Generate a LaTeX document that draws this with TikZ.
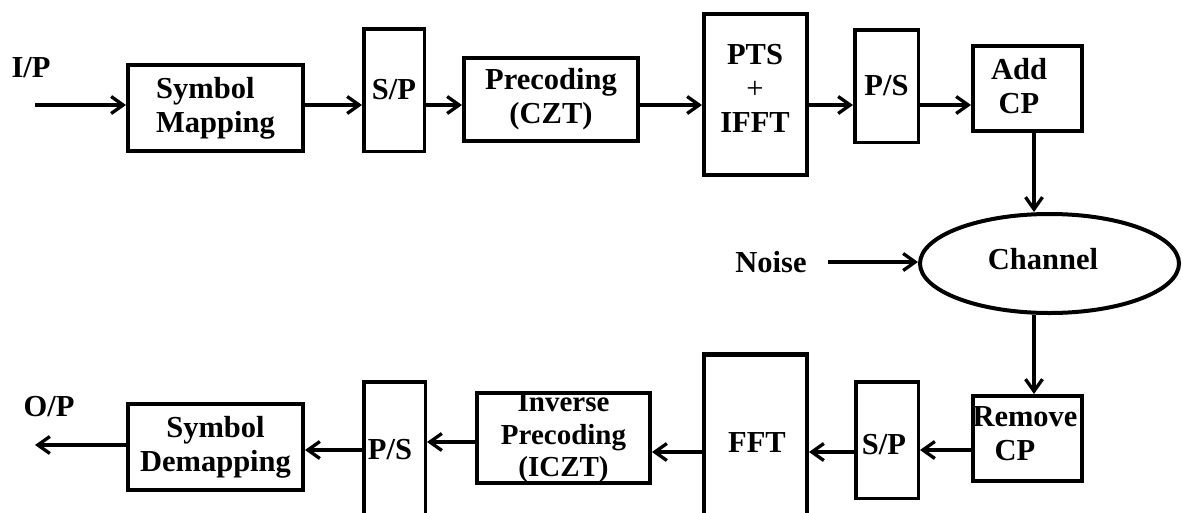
\documentclass[tikz,border=0pt]{standalone}
\usepackage{fontspec}
\setmainfont{Liberation Serif}
\usetikzlibrary{arrows.meta,shapes.geometric}
\begin{document}
\begin{tikzpicture}[x=1pt,y=-1pt,
  txtfont/.style={font=\bfseries\fontsize{30.5}{34}\selectfont},
  blk/.style={draw, line width=4.3pt, inner sep=0pt, txtfont, align=center},
  narrow/.style={blk, line width=3.5pt},
  lbl/.style={inner sep=0pt, txtfont, align=center},
  arr/.style={line width=3.3pt, -{Straight Barb[length=12pt,width=17pt]}}]
\useasboundingbox[fill=white] (0,0) rectangle (1183,512);
% top row
\node[lbl] (ip) at (31,68) {I/P};
\coordinate (in) at (35,105);
\coordinate (r1) at (0,105);
\node[blk, minimum width=174.7pt, minimum height=85.7pt, align=left] (symmap) at (215.5,108) {Symbol\\Mapping};
\node[narrow, minimum width=60.5pt, minimum height=122.5pt] (sp1) at (394,90) {S/P};
\node[blk, minimum width=173.7pt, minimum height=82.7pt] (prec) at (551,99.5) {Precoding\\(CZT)};
\node[blk, minimum width=102.7pt, minimum height=160.7pt] (pts) at (755.5,94.5) {};
\node[lbl] (ptst) at (755,88) {PTS\\{\mdseries +}\\IFFT};
\node[narrow, minimum width=63.5pt, minimum height=112.5pt] (ps1) at (886.5,86) {P/S};
\node[blk, minimum width=108.7pt, minimum height=84.7pt] (addcp) at (1027.5,88.5) {};
\node[lbl] (addcpt) at (1019,86) {Add\\CP};
% channel
\coordinate (c1) at (1034,0);
\node[draw, ellipse, line width=4pt, inner sep=0pt, minimum width=259pt, minimum height=99pt, txtfont] (chan) at (1049.5,263.5) {};
\node[lbl] (chant) at (1043,259) {Channel};
\node[lbl] (noise) at (771,262) {Noise};
% bottom row
\node[blk, minimum width=108.7pt, minimum height=84.7pt] (remcp) at (1027.5,438.5) {};
\node[lbl] (remcpt) at (1025,434) {Remove\\CP\hspace*{20pt}};
\node[narrow, minimum width=62.5pt, minimum height=116.5pt] (sp2) at (887,440) {};
\node[lbl] (sp2t) at (884,445) {S/P};
\node[blk, minimum width=102.7pt, minimum height=175pt] (fft) at (755.5,442) {};
\node[lbl] (fftt) at (757,443) {FFT};
\node[blk, minimum width=172.7pt, minimum height=85.7pt, font=\bfseries\fontsize{29}{32.5}\selectfont] (invp) at (563.5,438) {Inverse\\Precoding\\(ICZT)};
\node[narrow, minimum width=61.5pt, minimum height=150pt] (ps2) at (394.5,457) {};
\node[lbl] (ps2t) at (390,450) {P/S};
\node[blk, minimum width=174.7pt, minimum height=85.7pt] (symdem) at (215.5,447) {Symbol\\Demapping};
\node[lbl] (op) at (49,407) {O/P};
\coordinate (out) at (35,445);
% connectors top
\draw[arr] (in) -- (symmap.west |- in);
\draw[arr] (symmap.east |- r1) -- (sp1.west |- r1);
\draw[arr] (sp1.east |- r1) -- (prec.west |- r1);
\draw[arr] (prec.east |- r1) -- (pts.west |- r1);
\draw[arr] (pts.east |- r1) -- (ps1.west |- r1);
\draw[arr] (ps1.east |- r1) -- (addcp.west |- r1);
\draw[arr] (addcp.south -| c1) -- (chan.north -| c1);
\draw[arr] ([xshift=21pt]noise.east) -- (chan.west |- noise.east);
\draw[arr] (chan.south -| c1) -- (remcp.north -| c1);
% connectors bottom
\coordinate (b1) at (0,450);
\coordinate (b2) at (0,452);
\coordinate (b3) at (0,442);
\draw[arr] (remcp.west |- b1) -- (sp2.east |- b1);
\draw[arr] (sp2.west |- b2) -- (fft.east |- b2);
\draw[arr] (fft.west |- b2) -- (invp.east |- b2);
\draw[arr] (invp.west |- b3) -- (ps2.east |- b3);
\draw[arr] (ps2.west |- b1) -- (symdem.east |- b1);
\draw[arr] (symdem.west |- out) -- (out);
\end{tikzpicture}
\end{document}
